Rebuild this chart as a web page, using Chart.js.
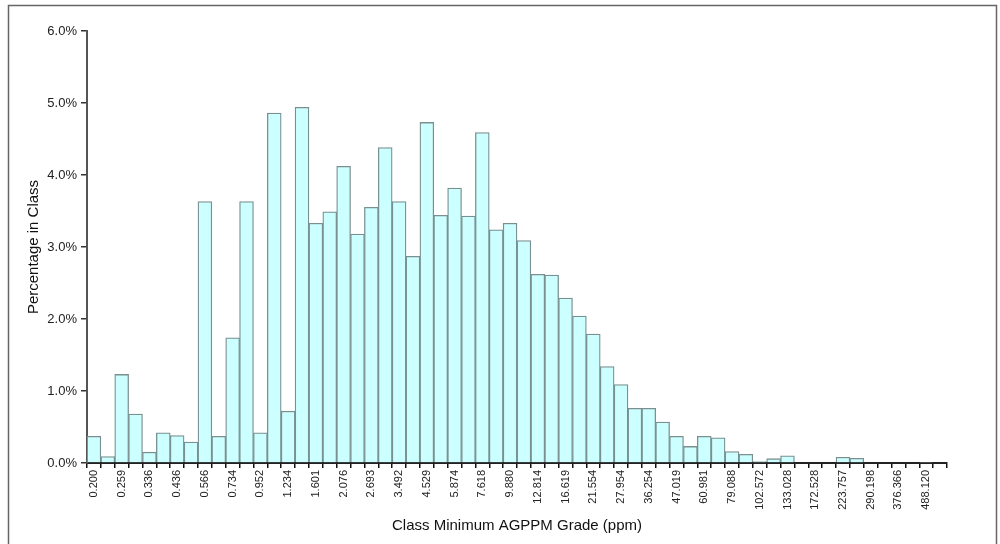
<!DOCTYPE html>
<html>
<head>
<meta charset="utf-8">
<script src="https://cdn.jsdelivr.net/npm/chart.js@4.4.1/dist/chart.umd.min.js"></script>
<style>
  html, body { margin: 0; padding: 0; background: #fff; }
  #wrap { position: relative; width: 1000px; height: 544px; }
</style>
</head>
<body>
<div id="wrap"><canvas id="chartCanvas"></canvas></div>
<script>
// class minimum grades shown on the axis (every second class)
const classMins = ['0.200', '0.259', '0.336', '0.436', '0.566', '0.734', '0.952', '1.234',
    '1.601', '2.076', '2.693', '3.492', '4.529', '5.874', '7.618', '9.880', '12.814',
    '16.619', '21.554', '27.954', '36.254', '47.019', '60.981', '79.088', '102.572',
    '133.028', '172.528', '223.757', '290.198', '376.366', '488.120'];

// percentage in each class (62 classes)
const pctInClass = [
    0.37, 0.09, 1.23, 0.68, 0.15, 0.42, 0.38, 0.29, 3.63, 0.37,
    1.74, 3.63, 0.42, 4.86, 0.72, 4.94, 3.33, 3.49, 4.12, 3.18,
    3.55, 4.38, 3.63, 2.87, 4.73, 3.44, 3.82, 3.43, 4.59, 3.24,
    3.33, 3.09, 2.62, 2.61, 2.29, 2.04, 1.79, 1.34, 1.09, 0.76,
    0.76, 0.57, 0.37, 0.23, 0.37, 0.35, 0.16, 0.12, 0.02, 0.06,
    0.10, 0, 0, 0, 0.08, 0.065, 0, 0, 0, 0,
    0.01, 0
];

const yTicks = [0, 1, 2, 3, 4, 5, 6];

// only every second class carries a label
const categories = classMins.flatMap(v => [v, '']);

const framePlugin = {
    id: 'frame',
    afterDraw(chart) {
        const ctx = chart.ctx;
        ctx.save();
        ctx.strokeStyle = '#666';
        ctx.lineWidth = 1.5;
        ctx.strokeRect(8.5, 5.5, 988, 600);
        ctx.restore();
    }
};

const ctx = document.getElementById('chartCanvas').getContext('2d');
window.myChart = new Chart(ctx, {
    type: 'bar',
    data: {
        labels: categories,
        datasets: [{
            label: 'Percentage in Class',
            data: pctInClass,
            backgroundColor: 'rgb(204, 255, 255)',
            borderColor: '#7a8f8f',
            borderWidth: 1.3,
            barPercentage: 1,
            categoryPercentage: 1
        }]
    },
    options: {
        responsive: true,
        maintainAspectRatio: false,
        animation: false,
        layout: { padding: { top: 31, right: 53, left: 0, bottom: 0 } },
        plugins: {
            legend: { display: false },
            tooltip: { enabled: false }
        },
        scales: {
            x: {
                offset: true,
                grid: { offset: true, drawOnChartArea: false, drawTicks: true, tickLength: 5, color: '#111', lineWidth: 1.5 },
                border: { color: '#222', width: 2 },
                ticks: {
                    autoSkip: false,
                    maxRotation: 90,
                    minRotation: 90,
                    padding: 2,
                    color: '#222',
                    font: { family: 'Liberation Sans, Arial', size: 11 }
                },
                title: {
                    display: true,
                    text: 'Class Minimum AGPPM Grade (ppm)',
                    color: '#111',
                    font: { family: 'Liberation Sans, Arial', size: 15 },
                    padding: { top: 0, bottom: 9 }
                },
                afterFit(scale) { scale.height = 81; }
            },
            y: {
                min: 0,
                max: 6,
                afterBuildTicks(scale) { scale.ticks = yTicks.map(v => ({ value: v })); },
                grid: { drawOnChartArea: false, drawTicks: true, tickLength: 6, color: '#333', lineWidth: 1.5 },
                border: { color: '#555', width: 2 },
                ticks: {
                    padding: 4,
                    color: '#222',
                    font: { family: 'Liberation Sans, Arial', size: 13 },
                    callback: v => v.toFixed(1) + '%'
                },
                title: {
                    display: true,
                    text: 'Percentage in Class',
                    color: '#111',
                    font: { family: 'Liberation Sans, Arial', size: 15 },
                    padding: { top: 25, bottom: 0 }
                },
                afterFit(scale) { scale.width = 87; }
            }
        }
    },
    plugins: [framePlugin]
});
</script>
</body>
</html>
